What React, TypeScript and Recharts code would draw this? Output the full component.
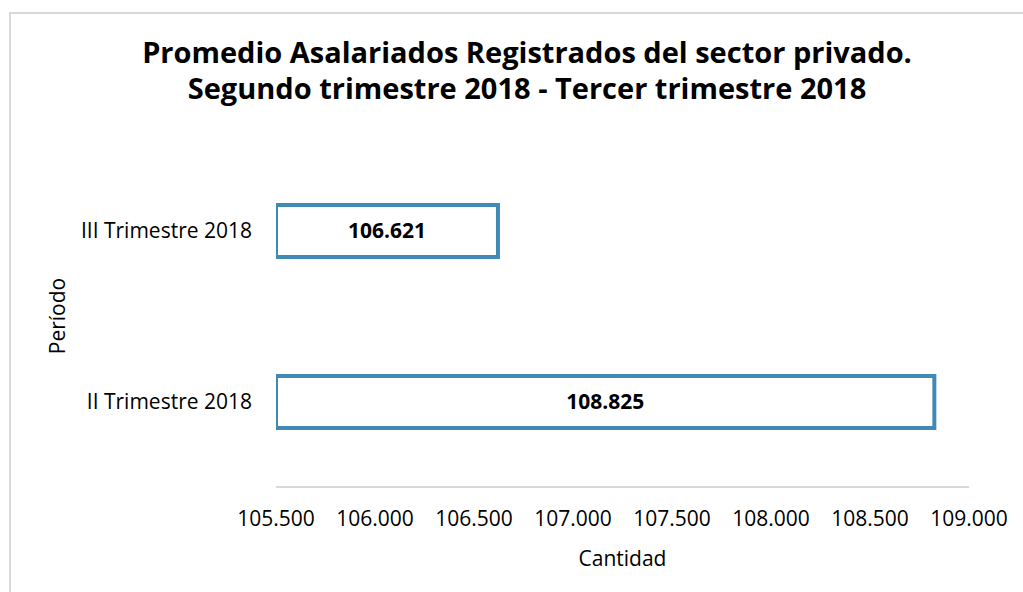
import { Bar, BarChart, LabelList, XAxis, YAxis } from "recharts";

const periods = ["III Trimestre 2018", "II Trimestre 2018"];
const averages = [106621, 108825];
const xTicks = [105500, 106000, 106500, 107000, 107500, 108000, 108500, 109000];

const data = periods.map((name, i) => ({ name, value: averages[i] }));

const fmt = (v: number) =>
  Math.round(v)
    .toString()
    .replace(/\B(?=(\d{3})+(?!\d))/g, ".");

const FONT = "'Open Sans', sans-serif";

export default function App() {
  return (
    <div
      style={{
        position: "absolute",
        left: 0,
        top: 0,
        width: 1023,
        height: 592,
        background: "#fff",
        overflow: "hidden",
        fontFamily: FONT,
      }}
    >
      <div
        style={{
          position: "absolute",
          left: 9,
          top: 12,
          width: 1100,
          height: 700,
          borderLeft: "2px solid #d9d9d9",
          borderTop: "2px solid #d9d9d9",
        }}
      />
      <div
        style={{
          position: "absolute",
          left: 27,
          width: 1000,
          top: 34,
          textAlign: "center",
          fontWeight: 700,
          fontSize: 29,
          lineHeight: "36px",
          color: "#000",
        }}
      >
        <div>Promedio Asalariados Registrados del sector privado.</div>
        <div>Segundo trimestre 2018 - Tercer trimestre 2018</div>
      </div>
      <div style={{ position: "absolute", left: 0, top: 0 }}>
        <BarChart
          width={1023}
          height={592}
          data={data}
          layout="vertical"
          margin={{ top: 145, right: 54, left: 0, bottom: 0 }}
        >
          <XAxis
            type="number"
            domain={[105500, 109000]}
            ticks={xTicks}
            allowDataOverflow
            tickFormatter={fmt}
            height={105}
            tickLine={false}
            tickSize={0}
            tickMargin={24}
            axisLine={{ stroke: "#d9d9d9", strokeWidth: 2 }}
            tick={{ fill: "#000", fontSize: 21, fontFamily: FONT }}
            label={{
              value: "Cantidad",
              position: "insideBottom",
              offset: 26,
              fill: "#000",
              fontSize: 21,
              fontFamily: FONT,
            }}
          />
          <YAxis
            type="category"
            dataKey="name"
            width={276}
            tickLine={false}
            axisLine={false}
            tickSize={0}
            tickMargin={24}
            tick={{ fill: "#000", fontSize: 21, fontFamily: FONT }}
            label={{
              value: "Período",
              angle: -90,
              position: "insideLeft",
              offset: 58,
              fill: "#000",
              fontSize: 21,
              fontFamily: FONT,
              style: { textAnchor: "middle" },
            }}
          />
          <Bar
            dataKey="value"
            fill="#ffffff"
            stroke="#418ab5"
            strokeWidth={4}
            barSize={52}
            isAnimationActive={false}
          >
            <LabelList
              dataKey="value"
              position="center"
              formatter={(v: any) => fmt(Number(v))}
              fill="#000"
              fontSize={21}
              fontWeight={700}
              fontFamily={FONT}
            />
          </Bar>
        </BarChart>
      </div>
    </div>
  );
}
